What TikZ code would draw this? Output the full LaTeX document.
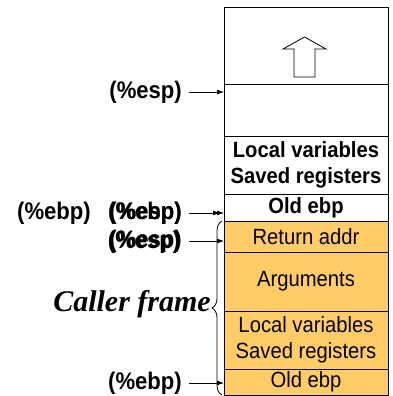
\documentclass[tikz,border=0pt]{standalone}
\usepackage{fontspec}
\setmainfont{Liberation Sans}[FakeStretch=0.92]
\newfontfamily\framefont{Liberation Serif}
\usetikzlibrary{positioning,arrows.meta,decorations.pathreplacing}
\definecolor{callerorange}{RGB}{255,204,102}
\tikzset{
  cell/.style={draw,line width=0.8pt,minimum width=164pt,outer sep=0pt,inner sep=0pt,
    align=center,font=\fontsize{22}{26}\selectfont},
  callee/.style={cell,fill=white,font=\bfseries\fontsize{22}{26}\selectfont},
  caller/.style={cell,fill=callerorange},
  reg/.style={anchor=east,inner sep=1pt,font=\bfseries\fontsize{24}{26}\selectfont},
  ptr/.style={-{Latex[length=7pt,width=5pt]},line width=0.8pt,shorten <=6pt},
}

\begin{document}
\begin{tikzpicture}[x=1pt,y=-1pt]
  \useasboundingbox (0,0) rectangle (392,396);
  % current frame
  \node[callee,minimum height=77pt,anchor=north] (free) at (306,7) {};
  \node[callee,minimum height=52pt,below=0pt of free] (empty) {};
  \node[callee,minimum height=58pt,below=0pt of empty] (locals) {Local variables\\Saved registers};
  \node[callee,minimum height=27pt,below=0pt of locals] (oldebp) {Old ebp};
  % caller frame
  \node[caller,minimum height=31pt,below=0pt of oldebp] (retaddr) {Return addr};
  \node[caller,minimum height=59pt,below=0pt of retaddr] (args) {Arguments};
  \node[caller,minimum height=58pt,below=0pt of args] (clocals) {Local variables\\Saved registers};
  \node[caller,minimum height=26pt,below=0pt of clocals] (coldebp) {Old ebp};
  % growth arrow
  \draw[line width=0.8pt] (294,77) -- (315,77) -- (315,49) -- (326,49) -- (304.5,37)
    -- (283,49) -- (294,49) -- cycle;
  % registers
  \node[reg] (espA) at (183,92) {(\%esp)};
  \draw[ptr] (espA.east) -- (espA.east -| empty.west);
  \node[reg] (ebpA) at (92,213) {(\%ebp)};
  \node[reg] (ebpB) at (183,213) {(\%ebp)};
  \node[reg] (espB) at (183,213) {(\%esp)};
  \draw[ptr,shorten >=4pt] (ebpB.east) -- (ebpB.east -| oldebp.west);
  \draw[ptr] (espB.east) -- (espB.east -| oldebp.west);
  \node[reg] (espC) at (183,241) {(\%esp)};
  \node[reg] (espD) at (181.5,242) {(\%esp)};
  \draw[ptr] (espC.east) -- (espC.east -| retaddr.west);
  \node[reg] (ebpC) at (183,383) {(\%ebp)};
  \draw[ptr] (ebpC.east) -- (ebpC.east -| coldebp.west);
  % caller frame brace
  \draw[line width=0.8pt,decorate,decoration={brace,amplitude=10pt}]
    ([xshift=-2pt]coldebp.south west) -- ([xshift=-2pt]retaddr.north west);
  \node[font=\framefont\bfseries\itshape\fontsize{30}{36}\selectfont] (callerlbl) at (132,304) {Caller frame};
\end{tikzpicture}
\end{document}
